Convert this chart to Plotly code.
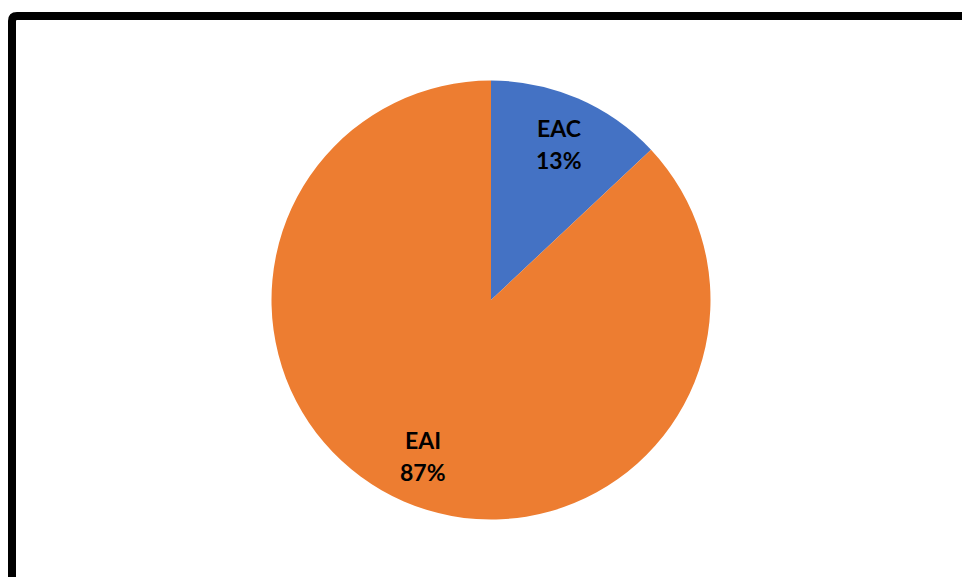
import math
import plotly.graph_objects as go

labels = ["EAC", "EAI"]
values = [13, 87]
colors = ["#4472C4", "#ED7D31"]

W, H = 962, 577
cx, cy, R = 491, 300, 219.5

fig = go.Figure(go.Pie(
    labels=labels, values=values, sort=False, direction="clockwise", rotation=0,
    marker=dict(colors=colors, line=dict(width=0)),
    textinfo="none", hoverinfo="label+percent", showlegend=False,
    domain=dict(x=[(cx - R) / W, (cx + R) / W], y=[(H - cy - R) / H, (H - cy + R) / H]),
))

# Labels placed along each slice's mid-angle at ~0.775 of the radius
total = sum(values)
ann = []
start = 0.0
for lab, v in zip(labels, values):
    frac = v / total
    mid = (start + frac / 2) * 2 * math.pi
    start += frac
    px = cx + 0.775 * R * math.sin(mid)
    py = cy - 0.775 * R * math.cos(mid)
    pct = f"{round(frac * 100)}%"
    for txt, shift in ((lab, 16), (pct, -16)):
        ann.append(dict(x=px / W, y=1 - py / H, xref="paper", yref="paper", text=txt,
                        showarrow=False, yshift=shift, xanchor="center", yanchor="middle",
                        font=dict(family="Lato", size=23, color="black", weight="bold")))

# Outer frame with rounded top-left corner
x0 = 12 / W
yt = 1 - 16 / H
r = 5
path = (f"M {x0},-0.1 L {x0},{1 - (16 + r) / H} Q {x0},{yt} {(12 + r) / W},{yt} L 1.1,{yt}")
fig.add_shape(type="path", path=path, xref="paper", yref="paper",
              line=dict(color="black", width=8))

fig.update_layout(width=W, height=H, margin=dict(l=0, r=0, t=0, b=0),
                  paper_bgcolor="white", plot_bgcolor="white", annotations=ann)
fig.write_html("out.html", config={"displayModeBar": False},
               post_script="document.body.style.margin='0';document.body.style.overflow='hidden';")
